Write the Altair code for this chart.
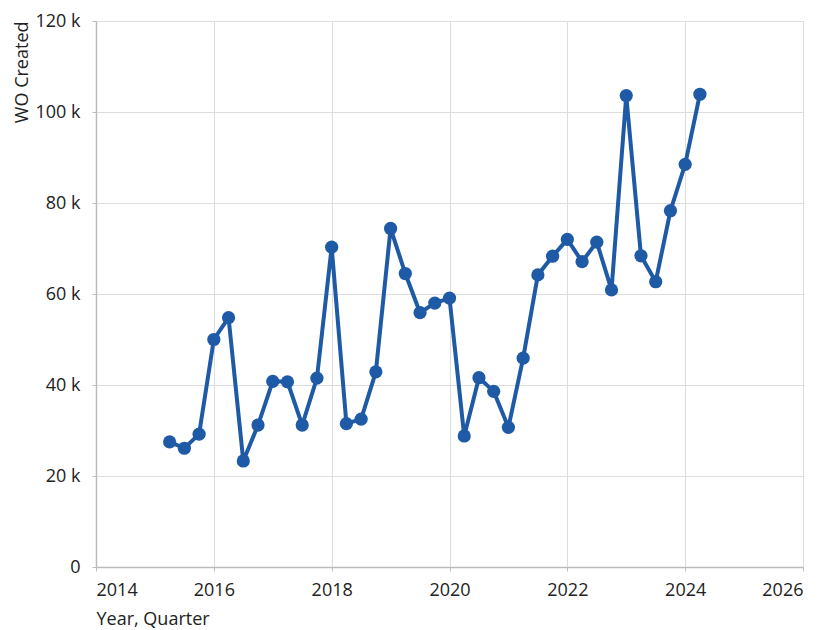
import altair as alt
import pandas as pd

# Quarterly periods (year, quarter)
years = [2015]*4 + [2016]*4 + [2017]*4 + [2018]*4 + [2019]*4 + [2020]*4 + [2021]*4 + [2022]*4 + [2023]*4 + [2024]
quarters = [1, 2, 3, 4]*9 + [1]
# WO Created values (in thousands)
wo_created_k = [27.5, 26.1, 29.2, 50.0, 54.8, 23.3, 31.2, 40.8, 40.7, 31.2, 41.5, 70.3,
                31.5, 32.5, 42.9, 74.4, 64.5, 55.9, 58.0, 59.1, 28.8, 41.6, 38.6, 30.7,
                45.9, 64.2, 68.3, 72.0, 67.1, 71.4, 60.9, 103.6, 68.4, 62.7, 78.3, 88.5, 103.9]
x_ticks = [2014, 2016, 2018, 2020, 2022, 2024, 2026]
y_ticks = [0, 20000, 40000, 60000, 80000, 100000, 120000]

df = pd.DataFrame({
    "t": [y + q / 4 for y, q in zip(years, quarters)],
    "wo": [v * 1000 for v in wo_created_k],
})

color = "#1f5aa6"
font = "Open Sans"

x = alt.X("t:Q", title="Year, Quarter",
          scale=alt.Scale(domain=[2014, 2026], nice=False, zero=False),
          axis=alt.Axis(values=x_ticks, format="d", titleAnchor="start", titleAlign="left",
                        labelPadding=10, titlePadding=11))
y = alt.Y("wo:Q", title="WO Created",
          scale=alt.Scale(domain=[0, 120000], nice=False),
          axis=alt.Axis(values=y_ticks, titleAnchor="end", titlePadding=3, labelPadding=12,
                        labelExpr="datum.value == 0 ? '0' : format(datum.value / 1000, 'd') + ' k'"))

base = alt.Chart(df).encode(x=x, y=y)
line = base.mark_line(color=color, strokeWidth=4)
pts = base.mark_circle(color=color, size=175, opacity=1)

chart = (line + pts).properties(
    width=707, height=546,
    autosize=alt.AutoSizeParams(type="none"),
    padding={"left": 88, "top": 13, "right": 20, "bottom": 70},
).configure_view(stroke="transparent").configure_axis(
    labelFont=font, titleFont=font, labelFontSize=18, titleFontSize=18,
    labelColor="#222", titleColor="#222", titleFontWeight="normal",
    gridColor="#dddddd", domainColor="#bbbbbb", domainWidth=1.5,
    tickColor="#bbbbbb", tickSize=4,
)

chart.save("out.html", embed_options={"renderer": "svg", "actions": False})
